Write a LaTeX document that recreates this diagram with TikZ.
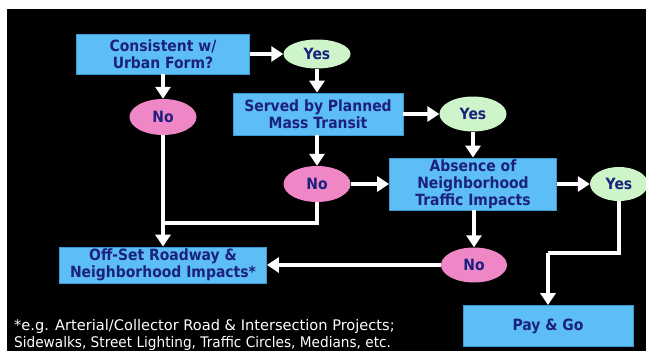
\documentclass[tikz,border=0pt]{standalone}
\usepackage{fontspec}
\setmainfont{DejaVu Sans}[FakeStretch=0.9]
\newfontfamily\notefont{DejaVu Sans}
\newfontfamily\notefontb{DejaVu Sans}[FakeStretch=0.935]
\usetikzlibrary{arrows.meta,shapes.geometric}
\definecolor{boxblue}{HTML}{5CBEF5}
\definecolor{boxedge}{HTML}{3A9AD8}
\definecolor{yesgreen}{HTML}{CDF5C9}
\definecolor{nopink}{HTML}{EF86C6}
\definecolor{navy}{HTML}{1C207E}
\tikzset{
  boxnode/.style={rectangle,fill=boxblue,draw=boxedge,line width=0.8pt,
    text=navy,font=\bfseries\fontsize{15.5}{17}\selectfont,align=center,
    inner sep=0pt},
  yesnode/.style={ellipse,fill=yesgreen,draw=none,text=navy,
    font=\bfseries\fontsize{15.5}{17}\selectfont,inner sep=0pt},
  nonode/.style={ellipse,fill=nopink,draw=none,text=navy,
    font=\bfseries\fontsize{15.5}{17}\selectfont,inner sep=0pt},
  arr/.style={draw=white,line width=4.5pt,
    -{Triangle[length=12pt,width=15pt]}},
  conn/.style={draw=white,line width=4.5pt,line join=miter}
}
\begin{document}
\begin{tikzpicture}[x=1pt,y=-1pt]
\useasboundingbox (0,0) rectangle (646,351);
\fill[white] (0,0) rectangle (646,351);
\fill[black] (7,9) rectangle (646,351);

\node[boxnode,minimum width=173pt,minimum height=40pt] (b1) at (163,54) {Consistent w/\\Urban Form?};
\node[yesnode,minimum width=67pt,minimum height=29pt] (y1) at (317,54) {Yes};
\node[nonode,minimum width=67pt,minimum height=36pt] (n1) at (163,117) {No};
\node[boxnode,minimum width=170pt,minimum height=42pt] (b2) at (318,114) {Served by Planned\\Mass Transit};
\node[yesnode,minimum width=67pt,minimum height=35pt] (y2) at (473,114) {Yes};
\node[boxnode,minimum width=167pt,minimum height=52pt] (b3) at (473,184) {Absence of\\Neighborhood\\Traffic Impacts};
\node[nonode,minimum width=67pt,minimum height=36pt] (n2) at (317,184) {No};
\node[yesnode,minimum width=58pt,minimum height=34pt] (y3) at (619,184) {Yes};
\node[nonode,minimum width=66pt,minimum height=35pt] (n3) at (474,265) {No};
\node[boxnode,minimum width=207pt,minimum height=36pt] (b4) at (163,265) {Off-Set Roadway \&\\Neighborhood Impacts*};
\node[boxnode,minimum width=170pt,minimum height=41pt] (b5) at (548,326) {Pay \& Go};

\node[anchor=west,text=white,font=\notefont\fontsize{14.6}{16.5}\selectfont,align=left,inner sep=0pt] (fn) at (14,335)
  {*e.g. Arterial/Collector Road \& Intersection Projects;\\{\notefontb Sidewalks, Street Lighting, Traffic Circles, Medians, etc.}};

\coordinate (j1) at (163,223);
\coordinate (k1) at (548,253);

\draw[arr] (b1.east) -- (y1.west);
\draw[arr] (b1.south) -- (n1.north);
\draw[arr] (y1.south) -- (y1.south |- b2.north);
\draw[arr] (b2.east) -- (y2.west);
\draw[arr] (y2.south) -- (b3.north);
\draw[arr] (n2 |- b2.south) -- (n2.north);
\draw[arr] (n2.east) -- (b3.west);
\draw[arr] (b3.east) -- (y3.west);
\draw[arr] (b3.south -| n3) -- (n3.north);
\draw[arr] (n1.south) -- (n1.south |- b4.north);
\draw[conn] (n2.south) |- (j1);
\draw[arr] (n3.west) -- (n3.west -| b4.east);
\draw[conn] (y3.south) |- (k1);
\draw[arr] (k1) -- (b5.north);
\end{tikzpicture}
\end{document}
